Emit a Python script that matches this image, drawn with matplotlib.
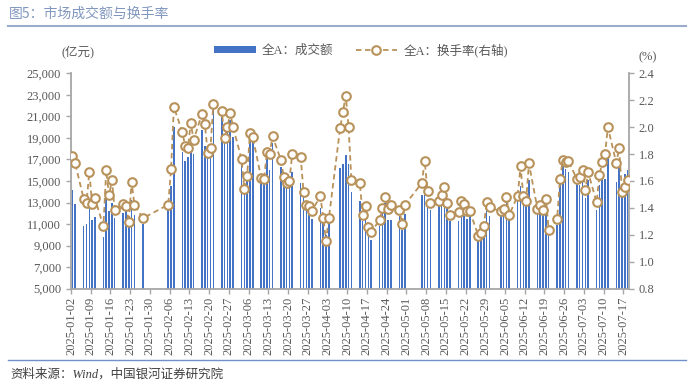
import matplotlib
matplotlib.use('Agg')
import matplotlib.pyplot as plt
from matplotlib.ticker import FuncFormatter
from matplotlib.lines import Line2D
from matplotlib.patches import Patch
import numpy as np
import pandas as pd

# ---------------- data ----------------
trade_dates = [
    '2025-01-02', '2025-01-03', '2025-01-06', '2025-01-07', '2025-01-08', '2025-01-09', '2025-01-10',
    '2025-01-13', '2025-01-14', '2025-01-15', '2025-01-16', '2025-01-17',
    '2025-01-20', '2025-01-21', '2025-01-22', '2025-01-23', '2025-01-24', '2025-01-27',
    '2025-02-05', '2025-02-06', '2025-02-07',
    '2025-02-10', '2025-02-11', '2025-02-12', '2025-02-13', '2025-02-14',
    '2025-02-17', '2025-02-18', '2025-02-19', '2025-02-20', '2025-02-21',
    '2025-02-24', '2025-02-25', '2025-02-26', '2025-02-27', '2025-02-28',
    '2025-03-03', '2025-03-04', '2025-03-05', '2025-03-06', '2025-03-07',
    '2025-03-10', '2025-03-11', '2025-03-12', '2025-03-13', '2025-03-14',
    '2025-03-17', '2025-03-18', '2025-03-19', '2025-03-20', '2025-03-21',
    '2025-03-24', '2025-03-25', '2025-03-26', '2025-03-27', '2025-03-28',
    '2025-03-31', '2025-04-01', '2025-04-02', '2025-04-03',
    '2025-04-07', '2025-04-08', '2025-04-09', '2025-04-10', '2025-04-11',
    '2025-04-14', '2025-04-15', '2025-04-16', '2025-04-17', '2025-04-18',
    '2025-04-21', '2025-04-22', '2025-04-23', '2025-04-24', '2025-04-25',
    '2025-04-28', '2025-04-29', '2025-04-30',
    '2025-05-06', '2025-05-07', '2025-05-08', '2025-05-09',
    '2025-05-12', '2025-05-13', '2025-05-14', '2025-05-15', '2025-05-16',
    '2025-05-19', '2025-05-20', '2025-05-21', '2025-05-22', '2025-05-23',
    '2025-05-26', '2025-05-27', '2025-05-28', '2025-05-29', '2025-05-30',
    '2025-06-03', '2025-06-04', '2025-06-05', '2025-06-06',
    '2025-06-09', '2025-06-10', '2025-06-11', '2025-06-12', '2025-06-13',
    '2025-06-16', '2025-06-17', '2025-06-18', '2025-06-19', '2025-06-20',
    '2025-06-23', '2025-06-24', '2025-06-25', '2025-06-26', '2025-06-27',
    '2025-06-30', '2025-07-01', '2025-07-02', '2025-07-03', '2025-07-04',
    '2025-07-07', '2025-07-08', '2025-07-09', '2025-07-10', '2025-07-11',
    '2025-07-14', '2025-07-15', '2025-07-16', '2025-07-17', '2025-07-18',
]

# 全A成交额（亿元）
amount = [
    14200, 12870, 10800, 10980, 13300, 11350, 11700,
    9810, 13330, 12190, 12960, 11570,
    12040, 12190, 10700, 13200, 11800, 11050,
    12500, 14500, 20000,
    17690, 16880, 17190, 18300, 17530,
    19750, 18270, 17850, 17800, 21700,
    20980, 18670, 19750, 20680, 19130,
    16670, 13950, 15120, 19130, 18670,
    14960, 14810, 17400, 16000, 18500,
    16260, 15060, 14500, 14660, 15850,
    14810, 13730, 12340, 11880, 11480,
    12500, 11260, 10000, 11400,
    16200, 16570, 17430, 16570, 13950,
    13180, 11260, 11480, 10330, 9500,
    10800, 12040, 12960, 11420, 11420,
    11730, 10490, 11970,
    13700, 13730, 12960, 12280,
    12710, 12710, 13570, 12650, 11260,
    11260, 12040, 11730, 11480, 11880,
    9560, 9720, 10330, 12650, 11730,
    11730, 11970, 13020, 11480,
    13110, 14570, 12960, 12810, 15120,
    12040, 12040, 11970, 12340, 10190,
    10950, 14810, 16420, 16100, 15800,
    14810, 14660, 15430, 13420, 15120,
    12340, 14660, 15280, 15200, 17220,
    14870, 16200, 14130, 15680, 15980,
]

# 全A换手率（%）
turnover = [
    1.787, 1.730, 1.467, 1.437, 1.667, 1.427, 1.471,
    1.264, 1.679, 1.493, 1.607, 1.387,
    1.430, 1.417, 1.293, 1.593, 1.424, 1.323,
    1.424, 1.689, 2.148,
    1.965, 1.859, 1.844, 2.032, 1.904,
    2.100, 2.026, 1.810, 1.846, 2.170,
    2.121, 1.918, 2.000, 2.108, 2.000,
    1.765, 1.541, 1.634, 1.960, 1.926,
    1.622, 1.612, 1.812, 1.800, 1.933,
    1.755, 1.630, 1.582, 1.600, 1.802,
    1.778, 1.521, 1.424, 1.417, 1.380,
    1.486, 1.328, 1.158, 1.323,
    1.993, 2.116, 2.234, 2.000, 1.605,
    1.582, 1.350, 1.412, 1.259, 1.219,
    1.311, 1.397, 1.481, 1.393, 1.419,
    1.382, 1.281, 1.424,
    1.585, 1.750, 1.528, 1.434,
    1.454, 1.493, 1.558, 1.434, 1.348,
    1.370, 1.449, 1.427, 1.380, 1.378,
    1.195, 1.212, 1.264, 1.446, 1.404,
    1.375, 1.393, 1.481, 1.348,
    1.491, 1.708, 1.491, 1.454, 1.730,
    1.395, 1.419, 1.387, 1.469, 1.239,
    1.316, 1.612, 1.758, 1.738, 1.745,
    1.617, 1.627, 1.679, 1.536, 1.664,
    1.442, 1.642, 1.741, 1.800, 2.000,
    1.733, 1.844, 1.521, 1.558, 1.607,
]

tick_dates = pd.date_range('2025-01-02', '2025-07-17', freq='7D')

# ---------------- style ----------------
plt.rcParams['font.family'] = ['Liberation Serif', 'Noto Sans CJK SC', 'DejaVu Sans']
GRAY = '#a6a6a6'
TXT = '#595959'
BAR_C = '#4472C4'
LINE_C = '#B8925A'

W, H = 700, 391
fig = plt.figure(figsize=(W / 100, H / 100), dpi=100)

start = pd.Timestamp('2025-01-02')
x = (pd.to_datetime(trade_dates) - start).days.values + 0.5

ax = fig.add_axes([71 / W, 1 - 288.7 / H, 558 / W, 215.4 / H])
ax.bar(x, amount, width=0.55, color=BAR_C, linewidth=0, zorder=2)
ax.set_ylim(5000, 25000)
ax.set_yticks(np.arange(5000, 25001, 2000))
ax.yaxis.set_major_formatter(FuncFormatter(lambda v, p: f'{int(v):,}'))
ax.set_xlim(0, 198)
tpos = (tick_dates - start).days.values
ax.set_xticks(tpos)
ax.set_xticklabels([d.strftime('%Y-%m-%d') for d in tick_dates], rotation=90)

ax2 = ax.twinx()
ax2.plot(x, turnover, ls=(0, (3, 2)), color=LINE_C, lw=1.3, marker='o', ms=6.2,
         mfc='white', mec=LINE_C, mew=1.5, zorder=3)
ax2.set_ylim(0.8, 2.4)
ax2.set_yticks(np.arange(0.8, 2.41, 0.2))
ax2.yaxis.set_major_formatter(FuncFormatter(lambda v, p: f'{v:.1f}'))

for a in (ax, ax2):
    a.spines['top'].set_visible(False)
    for s in ('left', 'right', 'bottom'):
        a.spines[s].set_color(GRAY)
        a.spines[s].set_linewidth(1.3)
    a.tick_params(axis='both', colors=GRAY, labelcolor=TXT, labelsize=9,
                  length=3.5, width=1.0, direction='out')
ax.spines['right'].set_visible(False)
ax2.spines['left'].set_visible(False)
ax2.spines['bottom'].set_visible(False)
ax.tick_params(axis='x', pad=2)

# axis unit labels
fig.text(77.5 / W, 1 - 52 / H, '(亿元)', ha='center', va='center', fontsize=9, color=TXT)
fig.text(648 / W, 1 - 57 / H, '(%)', ha='center', va='center', fontsize=9, color=TXT)

# legend
handles = [Patch(facecolor=BAR_C, edgecolor='none'),
           Line2D([0], [0], ls=(0, (3, 2)), color=LINE_C, lw=1.3, marker='o', ms=6.2,
                  mfc='white', mec=LINE_C, mew=1.5)]
fig.legend(handles, ['全A：成交额', '全A：换手率(右轴)'], ncol=2, frameon=False,
           loc='center', bbox_to_anchor=(361 / W, 1 - 50 / H), fontsize=9,
           handlelength=3.3, handleheight=0.55, handletextpad=0.5, columnspacing=1.8,
           labelcolor=TXT)

# title & separator lines
fig.text(9 / W, 1 - 14 / H, '图5：市场成交额与换手率', fontsize=10, color='#8197bf',
         va='center', ha='left', family=['Noto Sans CJK SC', 'DejaVu Sans'])
fig.add_artist(Line2D([8 / W, 686 / W], [1 - 25.5 / H, 1 - 25.5 / H], color='#9aabcc', lw=1.5))
fig.add_artist(Line2D([8 / W, 686 / W], [1 - 360 / H, 1 - 360 / H], color='#7090cc', lw=1.0))
fig.text(10 / W, 1 - 374 / H, '资料来源：Wind，中国银河证券研究院', fontsize=9, color='#404040',
         va='center', ha='left', style='italic')

fig.savefig('out.png', dpi=100)
